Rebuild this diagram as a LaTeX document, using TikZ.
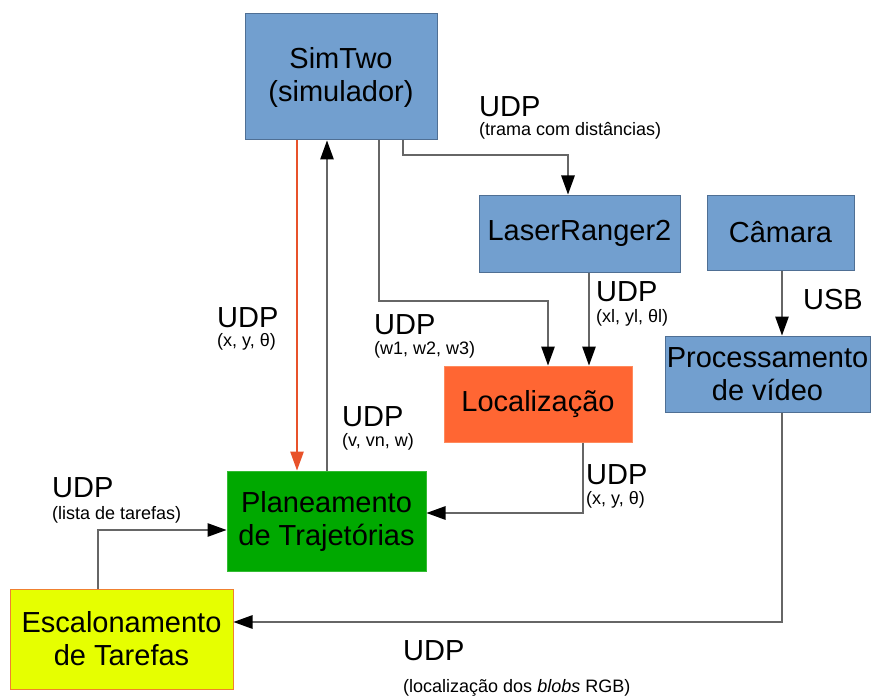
\documentclass[tikz,border=0pt]{standalone}
\usepackage{fontspec}
\setmainfont{Liberation Sans}
\usetikzlibrary{arrows.meta}
\definecolor{boxblue}{HTML}{729FCF}
\definecolor{boxblueline}{HTML}{4F6F94}
\definecolor{locorange}{HTML}{FF6633}
\definecolor{locline}{HTML}{FF8A5C}
\definecolor{plangreen}{HTML}{00A900}
\definecolor{planline}{HTML}{33BB33}
\definecolor{escyellow}{HTML}{E6FF00}
\definecolor{escline}{HTML}{F08030}
\definecolor{wire}{HTML}{666666}
\definecolor{redwire}{HTML}{E8522A}
\tikzset{
  block/.style={rectangle, draw, line width=1pt, align=center, inner sep=0pt,
    font=\fontsize{29}{33}\selectfont},
  blue block/.style={block, fill=boxblue, draw=boxblueline},
  link/.style={draw=wire, line width=1.2pt,
    -{Triangle[length=19pt,width=13.5pt,color=black]}},
  redlink/.style={draw=redwire, line width=1.2pt,
    -{Triangle[length=19pt,width=13.5pt,color=redwire]}},
  big/.style={anchor=west, inner sep=0pt, font=\fontsize{29}{33}\selectfont},
  small/.style={anchor=west, inner sep=0pt, font=\fontsize{18}{21}\selectfont},
}
\begin{document}
\begin{tikzpicture}[x=1pt,y=-1pt]
\useasboundingbox (0,0) rectangle (873,698);

% processes
\node[blue block, minimum width=192pt, minimum height=126pt] (sim) at (341,77) {SimTwo\\(simulador)};
\node[blue block, minimum width=201pt, minimum height=77pt] (laser) at (579.5,233.5) {LaserRanger2};
\node[blue block, minimum width=147pt, minimum height=75pt] (cam) at (780.5,232.5) {Câmara};
\node[blue block, minimum width=205pt, minimum height=76pt] (proc) at (767.5,374) {Processamento\\de vídeo};
\node[block, fill=locorange, draw=locline, minimum width=188pt, minimum height=76pt] (loc) at (538,404) {Localização};
\node[block, fill=plangreen, draw=planline, minimum width=199pt, minimum height=100pt] (plan) at (326.5,521) {Planeamento\\de Trajetórias};
\node[block, fill=escyellow, draw=escline, minimum width=223pt, minimum height=100pt] (esc) at (121.5,639) {Escalonamento\\de Tarefas};

% columns and rows used by the wires
\coordinate (cRed) at (297,0);
\coordinate (cUp) at (327,0);
\coordinate (cW) at (379,0);
\coordinate (cT) at (403,0);
\coordinate (cLa) at (568,0);
\coordinate (cLocA) at (548,0);
\coordinate (cLocB) at (589,0);
\coordinate (cLocOut) at (583,0);
\coordinate (cCam) at (782,0);
\coordinate (cEsc) at (98,0);
\coordinate (rT) at (0,155);
\coordinate (rW) at (0,301);
\coordinate (rLoc) at (0,513);
\coordinate (rProc) at (0,622);
\coordinate (rEsc) at (0,530);

% wires
\draw[redlink] (sim.south -| cRed) -- (plan.north -| cRed);
\draw[link] (plan.north -| cUp) -- (sim.south -| cUp);
\draw[link] (sim.south -| cT) -- (rT -| cT) -- (rT -| cLa) -- (laser.north -| cLa);
\draw[link] (sim.south -| cW) -- (rW -| cW) -- (rW -| cLocA) -- (loc.north -| cLocA);
\draw[link] (laser.south -| cLocB) -- (loc.north -| cLocB);
\draw[link] (loc.south -| cLocOut) -- (rLoc -| cLocOut) -- (rLoc -| plan.east);
\draw[link] (cam.south -| cCam) -- (proc.north -| cCam);
\draw[link] (proc.south -| cCam) -- (rProc -| cCam) -- (rProc -| esc.east);
\draw[link] (esc.north -| cEsc) -- (rEsc -| cEsc) -- (rEsc -| plan.west);

% labels
\node[big] (l1) at (479,107) {UDP};
\node[small] (l1s) at (479,131) {(trama com distâncias)};
\node[big] (l2) at (217,318) {UDP};
\node[small] (l2s) at (217,342) {(x, y, θ)};
\node[big] (l3) at (374,325) {UDP};
\node[small] (l3s) at (374,350) {(w1, w2, w3)};
\node[big] (l4) at (596,292) {UDP};
\node[small] (l4s) at (596,318) {(xl, yl, θl)};
\node[big] (l5) at (342,417) {UDP};
\node[small] (l5s) at (342,442) {(v, vn, w)};
\node[big] (l6) at (586,475) {UDP};
\node[small] (l6s) at (586,500) {(x, y, θ)};
\node[big] (l7) at (52,488) {UDP};
\node[small] (l7s) at (52,515) {(lista de tarefas)};
\node[big] (l8) at (803,300) {USB};
\node[big] (l9) at (403,651) {UDP};
\node[small] (l9s) at (403,688) {(localização dos \textit{blobs} RGB)};
\end{tikzpicture}
\end{document}
